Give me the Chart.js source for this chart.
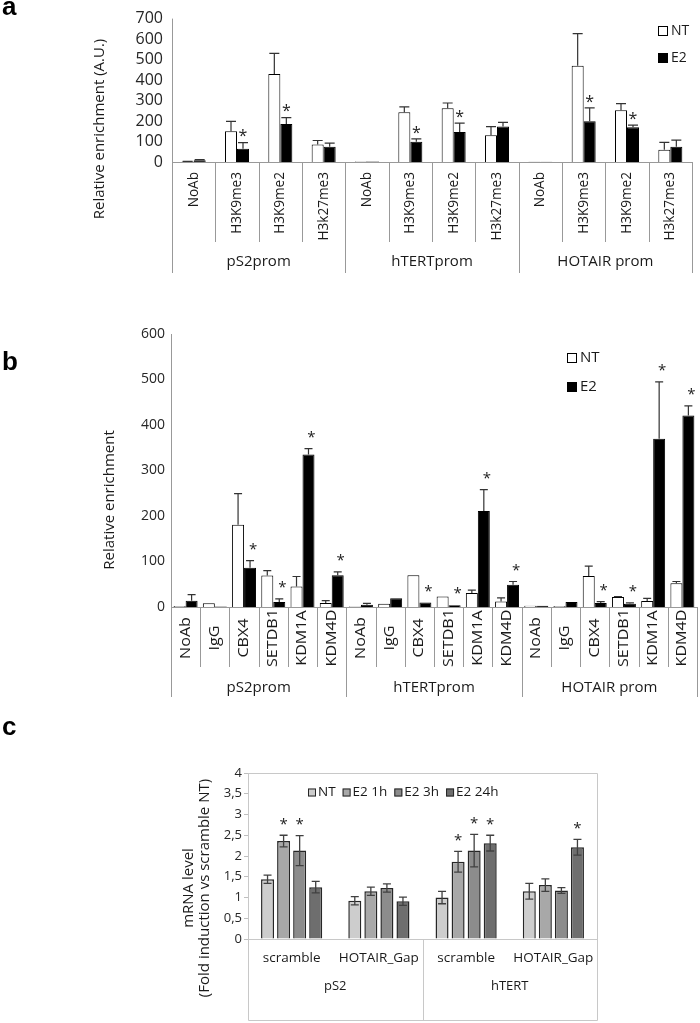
<!DOCTYPE html>
<html>
<head>
<meta charset="utf-8">
<script src="https://cdn.jsdelivr.net/npm/chart.js@4.4.0/dist/chart.umd.min.js"></script>
<style>
    body { margin: 0; background: #fff; width: 700px; height: 1023px; position: relative; overflow: hidden; }
    .panel { position: absolute; left: 0; }
</style>
</head>
<body>
<div class="panel" style="top:0"><canvas id="chartA" width="700" height="300"></canvas></div>
<div class="panel" style="top:310px"><canvas id="chartB" width="700" height="390"></canvas></div>
<div class="panel" style="top:680px"><canvas id="chartC" width="700" height="343"></canvas></div>

<script>
const FONT = "'Open Sans', sans-serif";

// ---- panel a: histone marks ----
const aMarks = ['NoAb', 'H3K9me3', 'H3K9me2', 'H3k27me3'];
const aGroups = ['pS2prom', 'hTERTprom', 'HOTAIR prom'];
const aNT = [2, 150, 430, 85, 2, 243, 262, 131, 1, 470, 253, 60];
const aNTErr = [1, 48, 100, 20, 0, 26, 26, 42, 0, 157, 32, 36];
const aE2 = [8, 65, 185, 75, 2, 99, 146, 173, 1, 199, 170, 75];
const aE2Err = [4, 30, 32, 17, 0, 14, 44, 20, 0, 65, 10, 32];
const aE2Stars = [0, 1, 1, 0, 0, 1, 1, 0, 0, 1, 1, 0];
const aYTicks = [0, 100, 200, 300, 400, 500, 600, 700];

// ---- panel b: chromatin factors ----
const bFactors = ['NoAb', 'IgG', 'CBX4', 'SETDB1', 'KDM1A', 'KDM4D'];
const bGroups = ['pS2prom', 'hTERTprom', 'HOTAIR prom'];
const bNT = [2, 8, 181, 69, 45, 9, 1, 7, 70, 23, 31, 12, 3, 2, 68, 22, 13, 52];
const bNTErr = [0, 0, 68, 11, 22, 5, 0, 0, 0, 0, 6, 8, 0, 0, 22, 1, 6, 4];
const bE2 = [14, 1, 86, 11, 335, 70, 5, 19, 10, 4, 211, 49, 3, 11, 9, 7, 370, 421];
const bE2Err = [13, 0, 16, 7, 13, 7, 3, 0, 0, 0, 47, 7, 0, 0, 3, 2, 125, 21];
const bE2Stars = [0, 0, 1, 1, 1, 1, 0, 0, 1, 1, 1, 1, 0, 0, 1, 1, 1, 1];
const bYTicks = [0, 100, 200, 300, 400, 500, 600];

// ---- panel c: mRNA levels ----
const cSi = ['scramble', 'HOTAIR_Gap'];
const cGroups = ['pS2', 'hTERT'];
const cSeries = ['NT', 'E2 1h', 'E2 3h', 'E2 24h'];
const cValues = [
    [1.44, 0.92, 1.00, 1.15],
    [2.36, 1.15, 1.86, 1.30],
    [2.13, 1.23, 2.13, 1.17],
    [1.25, 0.91, 2.31, 2.21]
];
const cErrors = [
    [0.10, 0.10, 0.15, 0.19],
    [0.14, 0.10, 0.25, 0.15],
    [0.36, 0.10, 0.39, 0.07],
    [0.14, 0.10, 0.19, 0.19]
];
const cStars = [
    [0, 0, 0, 0],
    [1, 0, 1, 0],
    [1, 0, 1, 0],
    [0, 0, 1, 1]
];
const cColors = ['#cdcdcd', '#a8a8a8', '#8c8c8c', '#6e6e6e'];
const cYTicks = [0, 0.5, 1, 1.5, 2, 2.5, 3, 3.5, 4];

Chart.defaults.font.family = FONT;
Chart.defaults.color = '#262626';
Chart.defaults.animation = false;

function drawText(ctx, text, x, y, o) {
    ctx.save();
    ctx.translate(x, y);
    if (o.rotate) ctx.rotate(-Math.PI / 2);
    if (o.squash) ctx.scale(o.squash, 1);
    ctx.font = (o.bold ? 'bold ' : '') + o.size + 'px ' + (o.family || FONT);
    ctx.fillStyle = o.color || '#1a1a1a';
    ctx.textAlign = o.align || 'center';
    ctx.textBaseline = o.baseline || 'middle';
    ctx.fillText(text, 0, 0);
    const w = ctx.measureText(text).width;
    ctx.restore();
    return w;
}

// error bars, asterisks, two-level category axis, titles and legend
const figurePlugin = {
    id: 'figure',
    afterDatasetsDraw(chart, args, o) {
        const ctx = chart.ctx;
        const yScale = chart.scales.y;
        chart.data.datasets.forEach((ds, i) => {
            const errs = o.errors[i];
            const stars = o.stars[i];
            chart.getDatasetMeta(i).data.forEach((bar, j) => {
                const v = ds.data[j];
                const e = errs ? errs[j] : 0;
                const top = yScale.getPixelForValue(v + e);
                if (e > 0) {
                    const from = o.twoSided ? yScale.getPixelForValue(v - e) : bar.y;
                    ctx.save();
                    ctx.strokeStyle = o.errColor;
                    ctx.lineWidth = o.errWidth;
                    ctx.beginPath();
                    ctx.moveTo(bar.x, from);
                    ctx.lineTo(bar.x, top);
                    ctx.moveTo(bar.x - o.cap / 2, top);
                    ctx.lineTo(bar.x + o.cap / 2, top);
                    if (o.twoSided) {
                        ctx.moveTo(bar.x - o.cap / 2, from);
                        ctx.lineTo(bar.x + o.cap / 2, from);
                    }
                    ctx.stroke();
                    ctx.restore();
                }
                if (stars && stars[j]) {
                    drawText(ctx, '*', bar.x + o.starDx, top - o.starOffset + 0.55 * o.starSize,
                        { size: o.starSize, baseline: 'alphabetic', color: '#222' });
                }
            });
        });
    },
    afterDraw(chart, args, o) {
        const ctx = chart.ctx;
        const area = chart.chartArea;
        const xScale = chart.scales.x;
        const labels = chart.data.labels;
        const n = labels.length;
        const w = (area.right - area.left) / n;

        ctx.save();
        ctx.strokeStyle = o.axisColor;
        ctx.lineWidth = 1;
        ctx.beginPath();
        if (o.frame) {
            ctx.rect(Math.round(area.left) + 0.5, Math.round(area.top) + 0.5,
                Math.round(area.right - area.left), Math.round(area.bottom + o.groupDepth - area.top));
        }
        ctx.moveTo(area.left, Math.round(area.bottom) + 0.5);
        ctx.lineTo(area.right, Math.round(area.bottom) + 0.5);
        ctx.moveTo(Math.round(area.left) + 0.5, area.top);
        ctx.lineTo(Math.round(area.left) + 0.5, area.bottom);
        for (let k = 0; k <= n; k++) {
            const depth = k % o.groupSize === 0 ? o.groupDepth : o.tickDepth;
            if (!depth) continue;
            const x = Math.round(area.left + k * w) + 0.5;
            ctx.moveTo(x, area.bottom);
            ctx.lineTo(x, area.bottom + depth);
        }
        ctx.stroke();
        ctx.restore();

        // category labels
        labels.forEach((lab, i) => {
            drawText(ctx, lab, xScale.getPixelForValue(i), area.bottom + o.labelY, {
                size: o.labelSize, rotate: o.rotateLabels, squash: o.labelSquash, align: o.labelAlign
            });
        });
        // group labels
        o.groups.forEach((g, k) => {
            const x = area.left + (k * o.groupSize + o.groupSize / 2) * w;
            drawText(ctx, g, x, area.bottom + o.groupY, { size: o.groupSize2 });
        });
        // y axis title
        o.yTitle.forEach((t, k) => {
            drawText(ctx, t, o.yTitleX[k], o.yTitleY, { size: o.yTitleSize, rotate: true, squash: o.yTitleSquash });
        });

        // legend
        const lg = o.legend;
        let lx = lg.x, ly = lg.y;
        chart.data.datasets.forEach(ds => {
            ctx.save();
            ctx.fillStyle = ds.backgroundColor;
            ctx.strokeStyle = lg.border;
            ctx.lineWidth = 1;
            ctx.fillRect(lx, ly - lg.box / 2, lg.box, lg.box);
            ctx.strokeRect(lx + 0.5, ly - lg.box / 2 + 0.5, lg.box - 1, lg.box - 1);
            ctx.restore();
            const tw = drawText(ctx, ds.label, lx + lg.box + lg.textGap, ly, { size: lg.size, align: 'left' });
            if (lg.horizontal) lx += lg.box + lg.textGap + tw + lg.itemGap;
            else ly += lg.dy;
        });

        // panel letter
        drawText(ctx, o.letter, o.letterX, o.letterY,
            { size: 26, bold: true, align: 'left', baseline: 'alphabetic', family: "'Liberation Sans', Arial, sans-serif", color: '#000' });
    }
};

function yAxis(ticks, width, padding, size, callback) {
    const axis = {
        min: ticks[0],
        max: ticks[ticks.length - 1],
        afterBuildTicks: s => { s.ticks = ticks.map(v => ({ value: v })); },
        afterFit: s => { s.width = width; },
        grid: { display: false, drawTicks: false },
        border: { display: false },
        ticks: { padding: padding, font: { size: size }, color: '#262626', autoSkip: false }
    };
    if (callback) axis.ticks.callback = callback;
    return axis;
}

const xAxis = {
    offset: true,
    grid: { display: false, drawTicks: false },
    border: { display: false },
    ticks: { display: false },
    afterFit: s => { s.height = 0; }
};

// Panel a
new Chart(document.getElementById('chartA'), {
    type: 'bar',
    data: {
        labels: aGroups.flatMap(() => aMarks),
        datasets: [
            { label: 'NT', data: aNT, backgroundColor: '#ffffff', borderColor: '#000', borderWidth: 1 },
            { label: 'E2', data: aE2, backgroundColor: '#000000', borderColor: '#000', borderWidth: 1 }
        ]
    },
    options: {
        responsive: false,
        layout: { padding: { top: 18, bottom: 138, left: 0, right: 8 } },
        datasets: { bar: { categoryPercentage: 0.554, barPercentage: 1 } },
        scales: { x: xAxis, y: yAxis(aYTicks, 172, 9, 16) },
        plugins: {
            legend: { display: false },
            tooltip: { enabled: false },
            figure: {
                errors: [aNTErr, aE2Err], stars: [null, aE2Stars], twoSided: false,
                cap: 10, errColor: '#333', errWidth: 1.2, starSize: 16, starOffset: 10, starDx: 0,
                axisColor: '#999', frame: false,
                groupSize: 4, groups: aGroups, tickDepth: 80, groupDepth: 111,
                labelY: 10, labelSize: 14, rotateLabels: true, labelSquash: 0.97, labelAlign: 'right',
                groupY: 100, groupSize2: 15,
                yTitle: ['Relative enrichment (A.U.)'], yTitleX: [100], yTitleY: 129, yTitleSize: 15,
                legend: { x: 658, y: 31, box: 10, textGap: 3, dy: 27, size: 14, border: '#000', horizontal: false },
                letter: 'a', letterX: 2, letterY: 15
            }
        }
    },
    plugins: [figurePlugin]
});

// Panel b
new Chart(document.getElementById('chartB'), {
    type: 'bar',
    data: {
        labels: bGroups.flatMap(() => bFactors),
        datasets: [
            { label: 'NT', data: bNT, backgroundColor: '#ffffff', borderColor: '#000', borderWidth: 1 },
            { label: 'E2', data: bE2, backgroundColor: '#000000', borderColor: '#000', borderWidth: 1 }
        ]
    },
    options: {
        responsive: false,
        layout: { padding: { top: 24, bottom: 93, left: 0, right: 3 } },
        datasets: { bar: { categoryPercentage: 0.82, barPercentage: 1 } },
        scales: { x: xAxis, y: yAxis(bYTicks, 171, 6, 14) },
        plugins: {
            legend: { display: false },
            tooltip: { enabled: false },
            figure: {
                errors: [bNTErr, bE2Err], stars: [null, bE2Stars], twoSided: false,
                cap: 8, errColor: '#333', errWidth: 1.2, starSize: 15, starOffset: 15, starDx: 3,
                axisColor: '#999', frame: false,
                groupSize: 6, groups: bGroups, tickDepth: 60, groupDepth: 90,
                labelY: 31, labelSize: 14, rotateLabels: true, labelSquash: 1.15, labelAlign: 'center',
                groupY: 81, groupSize2: 15,
                yTitle: ['Relative enrichment'], yTitleX: [110], yTitleY: 190, yTitleSize: 15,
                legend: { x: 567, y: 48, box: 10, textGap: 3, dy: 29, size: 15, border: '#000', horizontal: false },
                letter: 'b', letterX: 2, letterY: 60
            }
        }
    },
    plugins: [figurePlugin]
});

// Panel c
new Chart(document.getElementById('chartC'), {
    type: 'bar',
    data: {
        labels: cGroups.flatMap(() => cSi),
        datasets: cSeries.map((s, i) => ({
            label: s, data: cValues[i], backgroundColor: cColors[i], borderColor: '#262626', borderWidth: 1.5
        }))
    },
    options: {
        responsive: false,
        layout: { padding: { top: 93, bottom: 84, left: 0, right: 103 } },
        datasets: { bar: { categoryPercentage: 0.736, barPercentage: 0.81 } },
        scales: {
            x: xAxis,
            y: Object.assign(yAxis(cYTicks, 248, 2, 13, v => String(v).replace('.', ',')), {
                grid: { display: true, drawOnChartArea: false, drawTicks: true, tickLength: 4, color: '#bfbfbf' }
            })
        },
        plugins: {
            legend: { display: false },
            tooltip: { enabled: false },
            figure: {
                errors: cErrors, stars: cStars, twoSided: true,
                cap: 8, errColor: '#404040', errWidth: 1.3, starSize: 15, starOffset: 15, starDx: 0,
                axisColor: '#c8c8c8', frame: true,
                groupSize: 2, groups: cGroups, tickDepth: 0, groupDepth: 81,
                labelY: 19, labelSize: 13.5, rotateLabels: false, labelSquash: 0, labelAlign: 'center',
                groupY: 47, groupSize2: 13,
                yTitle: ['mRNA level', '(Fold induction vs scramble NT)'], yTitleX: [189, 205], yTitleY: 208,
                yTitleSize: 15,
                legend: { x: 308, y: 112.5, box: 8, textGap: 2, itemGap: 7, size: 13.5, border: '#262626', horizontal: true },
                letter: 'c', letterX: 2, letterY: 55
            }
        }
    },
    plugins: [figurePlugin]
});
</script>
</body>
</html>
